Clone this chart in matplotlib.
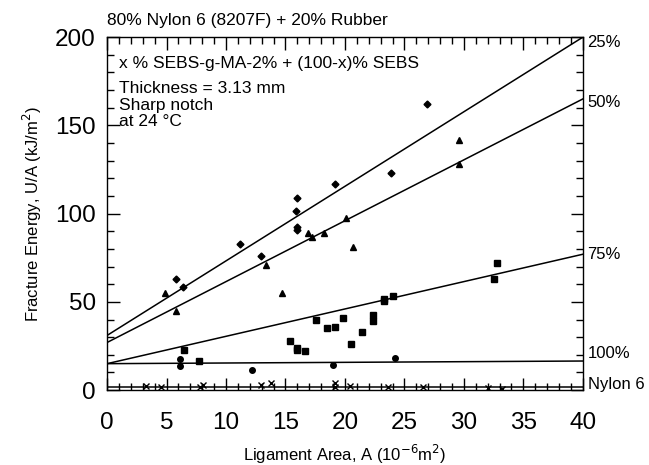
import matplotlib.pyplot as plt
import numpy as np
from matplotlib.ticker import MultipleLocator

plt.rcParams['font.family'] = ['Liberation Sans', 'DejaVu Sans']

# fitted lines: (intercept at A=0, value at A=40)
fit_25 = (31, 200)
fit_50 = (27, 165)
fit_75 = (15, 77)
fit_100 = (15, 16.5)
fit_ny6 = (2, 2)

x25 = [5.8, 6.4, 11.2, 12.9, 16.0, 15.9, 16.0, 16.0, 19.2, 23.9, 26.9]
y25 = [62.7, 58.5, 83, 76, 108.6, 101.4, 92.2, 90.6, 116.7, 122.8, 162]

x50 = [4.9, 5.8, 13.4, 14.7, 16.9, 17.2, 18.2, 20.1, 20.7, 29.6, 29.6]
y50 = [55, 45, 71, 55, 88.8, 87, 88.8, 97.8, 81, 141.6, 127.9]

x75 = [6.5, 7.7, 15.4, 16.0, 16.0, 16.6, 17.6, 18.5, 19.2, 19.8, 20.5,
       21.4, 22.4, 22.4, 23.3, 23.3, 24.0, 32.5, 32.8]
y75 = [23, 16.6, 27.6, 24, 22.7, 22, 39.5, 35, 36, 41, 26,
       33, 42.5, 39, 51.5, 50.6, 53.4, 62.7, 71.8]

x100 = [6.1, 6.1, 12.2, 19.0, 24.2]
y100 = [17.4, 13.4, 11.5, 14, 18.3]

xny = [3.3, 4.5, 7.8, 8.1, 12.9, 13.8, 19.2, 19.2, 20.4, 23.6, 26.6, 32, 33.2]
yny = [2.5, 1.5, 2, 3, 3, 4, 4, 2, 2.5, 2, 1.5, 1, 0.5]

right_labels = ['25%', '50%', '75%', '100%', 'Nylon 6']
right_label_y = [197, 163, 77, 21, 3]

fig = plt.figure(figsize=(6.49, 4.65), dpi=100)
ax = fig.add_axes([0.165, 0.161, 0.733, 0.759])

xs = np.array([0, 40])
for a, b in [fit_25, fit_50, fit_75, fit_100, fit_ny6]:
    ax.plot(xs, [a, b], color='black', lw=1.1)

ms = 4
ax.plot(x25, y25, 'D', color='black', ms=ms - 0.5, ls='none')
ax.plot(x50, y50, '^', color='black', ms=ms, ls='none')
ax.plot(x75, y75, 's', color='black', ms=ms, ls='none')
ax.plot(x100, y100, 'o', color='black', ms=ms, ls='none')
ax.plot(xny, yny, 'x', color='black', ms=ms, mew=1, ls='none')

ax.set_xlim(0, 40)
ax.set_ylim(0, 200)
ax.xaxis.set_major_locator(MultipleLocator(5))
ax.xaxis.set_minor_locator(MultipleLocator(1))
ax.yaxis.set_major_locator(MultipleLocator(50))
ax.yaxis.set_minor_locator(MultipleLocator(10))
ax.tick_params(which='both', direction='in', top=True, right=True, width=1)
ax.tick_params(which='major', length=9, labelsize=17.5)
ax.tick_params(which='minor', length=5)
ax.tick_params(axis='x', which='major', pad=16)
ax.tick_params(axis='y', which='major', pad=8)
for s in ax.spines.values():
    s.set_linewidth(1)

ax.set_xlabel('Ligament Area, A (10$^{-6}$m$^2$)', fontsize=12, labelpad=6)
ax.set_ylabel('Fracture Energy, U/A (kJ/m$^2$)', fontsize=12, labelpad=8)

ax.text(0, 1.025, '80% Nylon 6 (8207F) + 20% Rubber', transform=ax.transAxes,
        fontsize=12.5, ha='left', va='bottom')
ax.text(1, 185, 'x % SEBS-g-MA-2% + (100-x)% SEBS', fontsize=12.5, va='center')
ax.text(1, 175, 'Thickness = 3.13 mm\nSharp notch\nat 24 °C', fontsize=12.5,
        va='top', linespacing=1.1)

for lab, yv in zip(right_labels, right_label_y):
    ax.text(40.4, yv, lab, fontsize=12, va='center', ha='left')

fig.savefig('out.png', dpi=100)
